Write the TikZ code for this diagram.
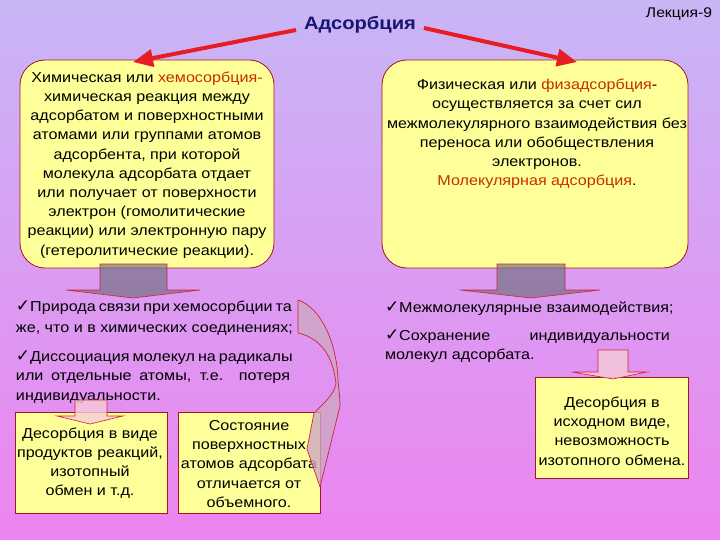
\documentclass[tikz,border=0pt]{standalone}
\usepackage{fontspec}
\setmainfont{Liberation Sans}[FakeStretch=1.12]
\newfontfamily\chkfont{DejaVu Sans}
\usetikzlibrary{arrows.meta}
\definecolor{bgtop}{RGB}{200,182,245}
\definecolor{bgbot}{RGB}{236,132,240}
\definecolor{boxfill}{RGB}{255,255,153}
\definecolor{boxline}{RGB}{165,20,35}
\definecolor{navy}{RGB}{22,22,112}
\definecolor{hl}{RGB}{200,45,0}
\definecolor{bigred}{RGB}{232,28,36}
\definecolor{arrline}{RGB}{205,35,60}
\newcommand{\chk}{{\chkfont\fontsize{17}{17}\selectfont ✓}}
\tikzset{
  txt/.style={font=\fontsize{14.4}{19.2}\selectfont, align=center},
  bigbox/.style={draw=boxline, line width=0.8pt, fill=boxfill, rounded corners=25pt},
  smallbox/.style={draw=boxline, line width=0.8pt, fill=boxfill},
  bigarrow/.style={draw=bigred, line width=4pt, -{Triangle[length=20pt,width=17pt]}},
  grayarr/.style={fill={rgb,255:red,110;green,110;blue,125}, fill opacity=0.65, draw=arrline, line width=0.6pt},
  lightarr/.style={fill={rgb,255:red,245;green,205;blue,215}, fill opacity=0.8, draw=arrline, line width=0.6pt},
  curvarr/.style={fill={rgb,255:red,205;green,168;blue,195}, fill opacity=0.8, draw=arrline, line width=0.7pt, line join=round},
  bullet/.style={font=\fontsize{14.4}{19.2}\selectfont, anchor=base west}
}
\begin{document}
\begin{tikzpicture}[x=1pt,y=-1pt, every node/.style={inner sep=0pt, outer sep=0pt}]
\useasboundingbox (0,0) rectangle (720,540);
\shade[top color=bgtop, bottom color=bgbot] (0,0) rectangle (720,540);

% title and lecture label
\node[font=\fontsize{18}{18}\selectfont\bfseries, text=navy] (title) at (360,25) {Адсорбция};
\node[font=\fontsize{14}{14}\selectfont] (lect) at (679,14) {Лекция-9};

% big boxes
\node[bigbox, minimum width=254, minimum height=208] (lbox) at (147,164) {};
\node[txt] (ltext) at (147,165) {Химическая или \textcolor{hl}{хемосорбция-}\\химическая реакция между\\адсорбатом и поверхностными\\атомами или группами атомов\\адсорбента, при которой\\молекула адсорбата отдает\\или получает от поверхности\\электрон (гомолитические\\реакции) или электронную пару\\(гетеролитические реакции).};
\node[bigbox, minimum width=306, minimum height=208] (rbox) at (535,164) {};
\node[txt] (rtext) at (537,134) {Физическая или \textcolor{hl}{физадсорбция}-\\осуществляется за счет сил\\межмолекулярного взаимодействия без\\переноса или обобществления\\электронов.\\\textcolor{hl}{Молекулярная адсорбция}.};

% red arrows from title
\draw[bigarrow] ([xshift=-8pt,yshift=-5pt]title.west) -- ([xshift=-14pt,yshift=-2pt]lbox.north);
\draw[bigarrow] ([xshift=8pt,yshift=-3pt]title.east) -- ([xshift=42pt,yshift=-2pt]rbox.north);

% gray block arrows
\path[grayarr] (100,264) -- (167,264) -- (167,290) -- (200,290) -- (133,298) -- (66,290) -- (100,290) -- cycle;
\path[grayarr] (497,264) -- (565,264) -- (565,290) -- (600,290) -- (531,298) -- (460,290) -- (497,290) -- cycle;

% left bullets
\node[bullet] (l1) at (16,311) {\makebox[274pt][s]{\chk Природа связи при хемосорбции та}};
\node[bullet] (l2) at (16,332) {же, что и в химических соединениях;};
\node[bullet] (l3) at (16,361) {\makebox[274pt][s]{\chk Диссоциация молекул на радикалы}};
\node[bullet] (l4) at (16,380) {\makebox[274pt][s]{или отдельные атомы, т.е. потеря}};
\node[bullet] (l5) at (16,400) {индивидуальности.};

% right bullets
\node[bullet] (r1) at (385,312) {\chk Межмолекулярные взаимодействия;};
\node[bullet] (r2) at (385,340) {\makebox[285pt][s]{\chk Сохранение индивидуальности}};
\node[bullet] (r3) at (385,359) {молекул адсорбата.};

% lower boxes
\node[smallbox, minimum width=152, minimum height=101] (dbox) at (91,462.5) {};
\node[txt] (dtext) at (90,463) {Десорбция в виде\\продуктов реакций,\\изотопный\\обмен и т.д.};
\node[smallbox, minimum width=142, minimum height=101] (sbox) at (249,462.5) {};
\node[txt] (stext) at (249,464) {Состояние\\поверхностных\\атомов адсорбата\\отличается от\\объемного.};
\node[smallbox, minimum width=153, minimum height=101] (ibox) at (611.5,427.5) {};
\node[txt] (itext) at (612,431) {Десорбция в\\исходном виде,\\невозможность\\изотопного обмена.};

% small light block arrows
\path[lightarr] (75,400) -- (107,400) -- (107,416) -- (123,416) -- (90,424) -- (57,416) -- (75,416) -- cycle;
\path[lightarr] (598,350) -- (628,350) -- (628,372) -- (647,372) -- (613,379) -- (572,372) -- (598,372) -- cycle;

% curved arrow
\path[curvarr] (298,300) .. controls (322,308) and (337,345) .. (338,380) .. controls (339,392) and (340,398) .. (340,406) -- (320,487) -- (307,449) -- (314,413) .. controls (322,405) and (334,395) .. (336,384) .. controls (333,355) and (320,338) .. (298,333) -- cycle;
\end{tikzpicture}
\end{document}
